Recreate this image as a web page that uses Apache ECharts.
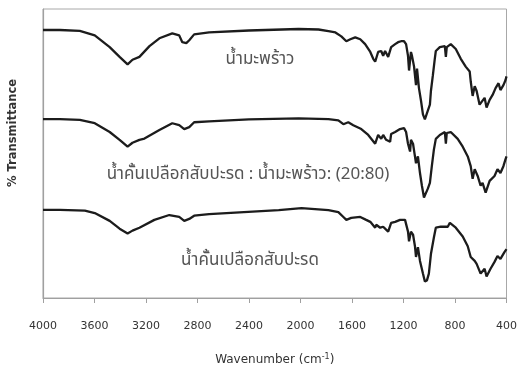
<!DOCTYPE html>
<html><head><meta charset="utf-8">
<script src="https://cdn.jsdelivr.net/npm/echarts@6/dist/echarts.min.js"></script>
<style>html,body{margin:0;padding:0;background:#fff}#c{width:520px;height:371px}</style>
</head><body><div id="c"></div>
<script>
// x-axis ticks (wavenumber, cm-1)
const xTicks = [4000,3600,3200,2800,2400,2000,1600,1200,800,400];
// Series names (Thai labels as shown on the chart)
const names = ['น้ำมะพร้าว','น้ำคั้นเปลือกสับปะรด : น้ำมะพร้าว: (20:80)','น้ำคั้นเปลือกสับปะรด'];

// Trace 1 (top, coconut water) - offset %T units
const w1 = [4000,3869,3714,3598,3482,3405,3343,3305,3251,3173,3096,2996,2942,2918,2887,2864,2826,2710,2401,2015,1860,1783,1729,1683,1644,1613,1575,1536,1498,1458,1435,1420,1397,1373,1358,1343,1319,1304,1296,1265,1242,1219,1196,1180,1165,1157,1142,1134,1118,1103,1095,1080,1064,1049,1034,1026,1011,995,987,972,957,949,918,879,871,864,833,794,755,717,686,678,663,647,632,609,601,570,555,531,508,485,462,447,424,408,400];
const t1 = [274.5,274.5,273.5,269,257,247,239.3,244,247,258,266,271,269,262,261,264,270,272,274,275.5,275,273.3,272,268,263,265,267,265,260,252,245,242,252,253,248,253,247,248,257,260,262,263,263,260,248,233,252,248,237,218,235,215,202,188,183,185,192,198,212,228,245,253,257,258,247,257,260,255,245,237,232,222,207,217,212,198,200,205,195,203,208,215,220,213,218,223,227];

// Trace 2 (middle, mix 20:80)
const w2 = [4000,3869,3714,3598,3482,3405,3343,3305,3251,3212,3096,2996,2942,2903,2864,2826,2710,2401,2015,1783,1706,1667,1629,1590,1528,1474,1420,1397,1373,1358,1335,1304,1296,1265,1227,1196,1180,1165,1149,1142,1126,1111,1103,1088,1072,1057,1041,1026,1011,995,980,964,949,918,879,871,864,833,779,740,701,678,663,647,624,601,586,562,531,493,470,447,424,408,400];
const t2 = [183.3,183.3,182.5,179,170,162,155,159,162,163.3,172,179,177,173,175,180,181,183,184,183.3,182,178,180,177,173,167,158,167,163,167,162,160,168,170,173,174,170,158,150,162,158,145,138,145,128,115,103,102,112,118,135,152,163,167,170,158,169,170,163,155,145,135,122,132,125,115,118,108,120,125,132,128,135,142,145];

// Trace 3 (bottom, pineapple peel juice)
const w3 = [4000,3869,3675,3598,3482,3405,3343,3305,3251,3135,3019,2942,2903,2864,2826,2710,2169,1992,1783,1706,1667,1644,1606,1536,1490,1458,1420,1412,1381,1358,1335,1319,1296,1265,1227,1188,1180,1165,1157,1142,1126,1111,1103,1088,1072,1049,1034,1018,1003,987,964,949,910,856,840,794,740,701,678,647,632,601,570,555,524,493,470,447,416,400];
const t3 = [90.3,90.3,89.5,87,79,71,66,69,72,80,85,83,79,81,84.3,86,90,92,90,88,83,80,82,83,80,78,72,75,72,73,70,68,77,78,80,80,78,68,58,68,65,53,42,52,38,25,17,18,25,45,62,72,73,73,77,72,63,53,42,38,35,25,30,22,30,37,43,40,47,50];

const pair = (w,t) => w.map((x,i)=>[x,t[i]]);
const lineStyle = {color:'#1c1c1c', width:2.3};
const mk = (name,w,t) => ({name, type:'line', data:pair(w,t), showSymbol:false, symbol:'none', lineStyle, silent:true, animation:false});
const thaiFont = '17px "Noto Sans Thai", "Noto Sans", sans-serif';

const chart = echarts.init(document.getElementById('c'), null, {renderer:'canvas'});
chart.setOption({
  animation:false,
  grid:{left:43, right:11, top:9, bottom:66, show:true, borderColor:'#a8a8a8', borderWidth:1},
  xAxis:{type:'value', inverse:true, min:400, max:4000, interval:400,
    axisLine:{show:true, lineStyle:{color:'#a0a0a0', width:1.2}},
    axisTick:{show:true, length:5, lineStyle:{color:'#a0a0a0'}},
    axisLabel:{color:'#333', fontFamily:'DejaVu Sans', fontSize:11, margin:23,
      formatter:(v)=> xTicks.includes(v) ? String(v) : ''},
    splitLine:{show:false},
    name:'{a|Wavenumber (cm}{s|-1}{a|)}', nameLocation:'middle', nameGap:55,
    nameTextStyle:{rich:{a:{fontFamily:'DejaVu Sans', fontSize:12, color:'#333'}, s:{fontFamily:'DejaVu Sans', fontSize:8, color:'#333', verticalAlign:'top', padding:[0,0,6,0]}}}
  },
  yAxis:{type:'value', min:0, max:296, show:true,
    axisLine:{show:true, lineStyle:{color:'#a0a0a0', width:1.2}},
    axisTick:{show:false}, axisLabel:{show:false}, splitLine:{show:false}},
  series:[mk(names[0],w1,t1), mk(names[1],w2,t2), mk(names[2],w3,t3)],
  graphic:[
    {type:'text', style:{text:names[0], x:260, y:61, fill:'#555', font:thaiFont, align:'center', verticalAlign:'middle'}},
    {type:'text', style:{text:names[1], x:248, y:176, fill:'#555', font:thaiFont, align:'center', verticalAlign:'middle'}},
    {type:'text', style:{text:names[2], x:250, y:262, fill:'#555', font:thaiFont, align:'center', verticalAlign:'middle'}},
    {type:'text', rotation:Math.PI/2, x:13, y:133, style:{text:'% Transmittance', x:0, y:0, fill:'#333', font:'bold 11.5px "DejaVu Sans"', align:'center', verticalAlign:'middle'}}
  ]
});
</script></body></html>
